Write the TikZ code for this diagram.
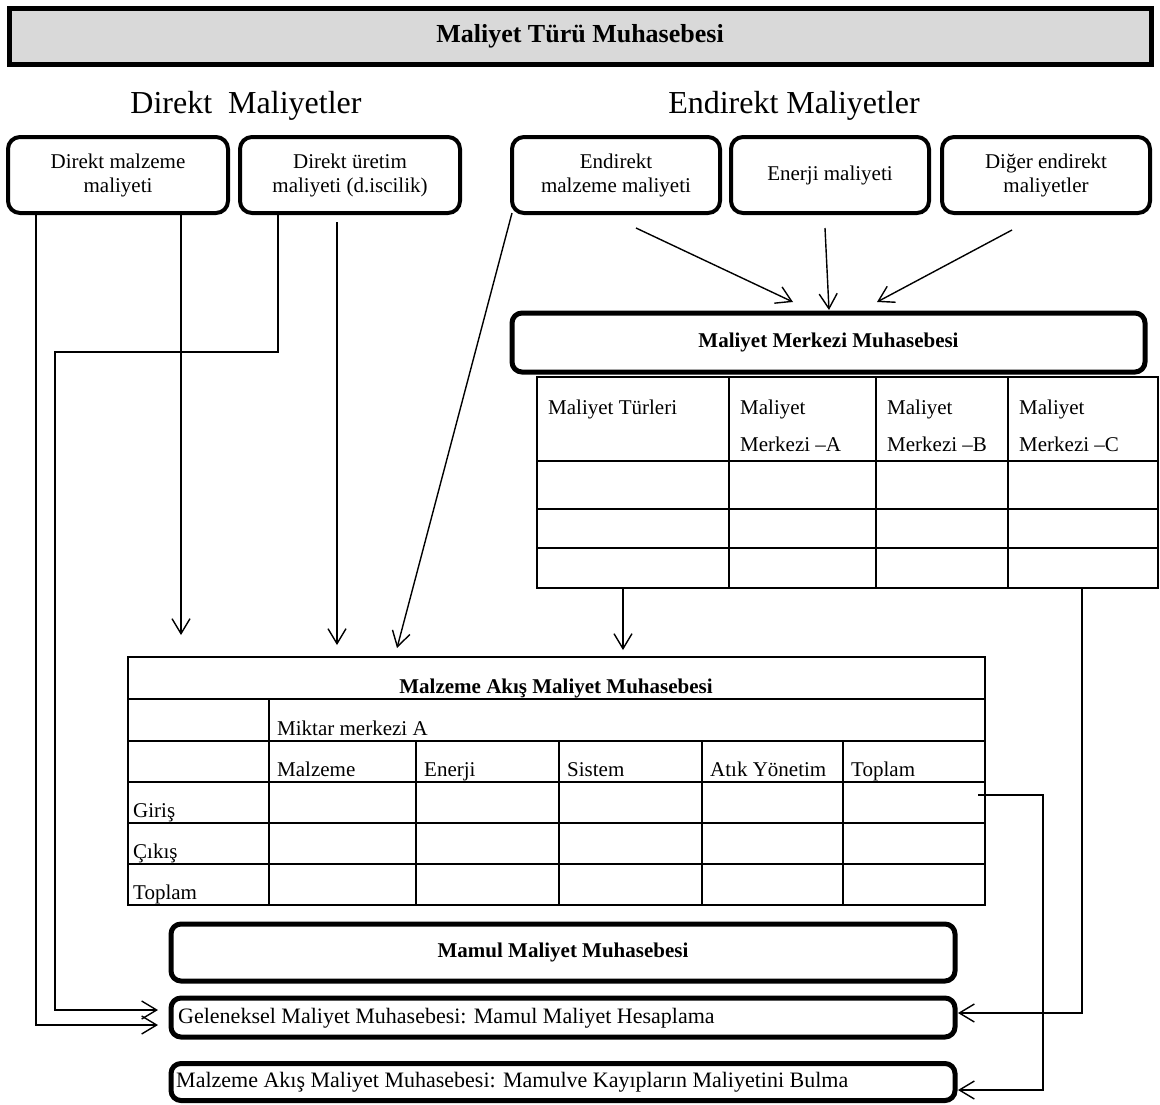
\documentclass[tikz,border=0pt]{standalone}
\usepackage{fontspec}
\setmainfont{Liberation Serif}
\usetikzlibrary{arrows.meta,calc}
\begin{document}
\begin{tikzpicture}[x=1pt,y=-1pt,
  rbox/.style={draw, line width=4pt, rounded corners=12pt, inner sep=0pt, outer sep=0pt,
               align=center, font=\fontsize{21}{24}\selectfont},
  heavybox/.style={rbox, line width=5pt, rounded corners=10pt},
  tabline/.style={line width=2pt},
  conn/.style={line width=1.4pt},
  arr/.style={conn, -{Straight Barb[length=15pt,width=18pt]}},
  cell/.style={anchor=base west, inner sep=0pt, font=\fontsize{21}{24}\selectfont},
  boxlabel/.style={anchor=west, inner sep=0pt, font=\fontsize{22}{24}\selectfont},
]
\useasboundingbox (0,0) rectangle (1160,1104);

% banner
\node[draw, line width=5pt, fill=black!15, minimum width=1142pt, minimum height=56pt,
      inner sep=0pt, font=\fontsize{26}{30}\selectfont\bfseries] (title) at (580,36)
      {Maliyet Türü Muhasebesi};

% group headings
\node[font=\fontsize{32}{36}\selectfont] (hdir) at (246,106) {Direkt\ \ Maliyetler};
\node[font=\fontsize{32}{36}\selectfont] (hind) at (794,106) {Endirekt Maliyetler};

% cost type boxes
\node[rbox, minimum width=220pt, minimum height=76pt] (b1) at (118,175) {Direkt malzeme\\maliyeti};
\node[rbox, minimum width=220pt, minimum height=76pt] (b2) at (350,175) {Direkt üretim\\maliyeti (d.iscilik)};
\node[rbox, minimum width=208pt, minimum height=76pt] (b3) at (616,175) {Endirekt\\malzeme maliyeti};
\node[rbox, minimum width=198pt, minimum height=76pt] (b4) at (830,175) {Enerji maliyeti};
\node[rbox, minimum width=208pt, minimum height=76pt] (b5) at (1046,175) {Diğer endirekt\\maliyetler};

% cost centre accounting
\node[heavybox, minimum width=633pt, minimum height=59pt, font=\fontsize{21}{24}\selectfont\bfseries]
      (mm) at (828.5,342.5) {Maliyet Merkezi Muhasebesi};

% cost centre table
\draw[tabline] (537,377) rectangle (1158,588);
\foreach \x in {729,876,1008} \draw[tabline] (\x,377) -- (\x,588);
\foreach \y in {461,509,548} \draw[tabline] (537,\y) -- (1158,\y);
\coordinate (mt-sw) at (537,588);
\node[cell] (mt1) at (548,414) {Maliyet Türleri};
\node[cell] (mt2) at (740,414) {Maliyet};
\node[cell] (mt2b) at (740,451) {Merkezi –A};
\node[cell] (mt3) at (887,414) {Maliyet};
\node[cell] (mt3b) at (887,451) {Merkezi –B};
\node[cell] (mt4) at (1019,414) {Maliyet};
\node[cell] (mt4b) at (1019,451) {Merkezi –C};

% material flow cost table
\draw[tabline] (128,657) rectangle (985,905);
\foreach \y in {699,741,782,823,864} \draw[tabline] (128,\y) -- (985,\y);
\draw[tabline] (269,699) -- (269,905);
\foreach \x in {416,559,702,843} \draw[tabline] (\x,741) -- (\x,905);
\node[cell, anchor=base, font=\fontsize{21}{24}\selectfont\bfseries] (ft0) at (556,693) {Malzeme Akış Maliyet Muhasebesi};
\node[cell] (ft1) at (277,735) {Miktar merkezi A};
\node[cell] (ft2) at (277,776) {Malzeme};
\node[cell] (ft3) at (424,776) {Enerji};
\node[cell] (ft4) at (567,776) {Sistem};
\node[cell] (ft5) at (710,776) {Atık Yönetim};
\node[cell] (ft6) at (851,776) {Toplam};
\node[cell] (ft7) at (133,817) {Giriş};
\node[cell] (ft8) at (133,858) {Çıkış};
\node[cell] (ft9) at (133,899) {Toplam};

% product cost accounting boxes
\node[heavybox, minimum width=784pt, minimum height=57pt, font=\fontsize{21}{24}\selectfont\bfseries]
      (pc) at (563,952.5) {Mamul Maliyet Muhasebesi};
\node[heavybox, minimum width=784pt, minimum height=39pt] (gel) at (563,1017.5) {};
\node[boxlabel] (gelt) at (178,1018) {Geleneksel Maliyet Muhasebesi: Mamul Maliyet Hesaplama};
\node[heavybox, minimum width=784pt, minimum height=37pt] (maf) at (563,1082) {};
\node[boxlabel] (maft) at (176,1082) {Malzeme Akış Maliyet Muhasebesi: Mamulve Kayıpların Maliyetini Bulma};

% connector points
\coordinate (k1) at (36,1025);
\coordinate (d1) at (181,635);
\coordinate (k2a) at (278,352);
\coordinate (k2b) at (55,1010);
\coordinate (d2) at (337,645);
\coordinate (d3) at (397,648);
\coordinate (s3) at (636,228);
\coordinate (e3) at (793,302);
\coordinate (s4) at (825,228);
\coordinate (e4) at (829,310);
\coordinate (s5) at (1012,230);
\coordinate (e5) at (877,302);
\coordinate (d4) at (623,650);
\coordinate (k3) at (1082,1013);
\coordinate (k4a) at (978,795);
\coordinate (k4b) at (1043,1090);

% direct costs
\draw[arr, shorten >=13pt] (b1.south -| k1) -- (k1) -- (gel.west |- k1);
\draw[arr] (b1.south -| d1) -- (d1);
\draw[arr, shorten >=13pt] (b2.south -| k2a) -- (k2a) -| (k2b) -- (gel.west |- k2b);
\draw[arr, shorten <=9pt] (b2.south -| d2) -- (d2);
\draw[arr] (b3.south west) -- (d3);

% indirect costs into cost centres
\draw[arr] (s3) -- (e3);
\draw[arr] (s4) -- (e4);
\draw[arr] (s5) -- (e5);

% cost centres onward
\draw[arr] (mt-sw -| d4) -- (d4);
\draw[arr, shorten >=3pt] (mt-sw -| k3) -- (k3) -- (gel.east |- k3);
\draw[arr, shorten >=3pt] (k4a) -| (k4b) -- (maf.east |- k4b);

\end{tikzpicture}
\end{document}
